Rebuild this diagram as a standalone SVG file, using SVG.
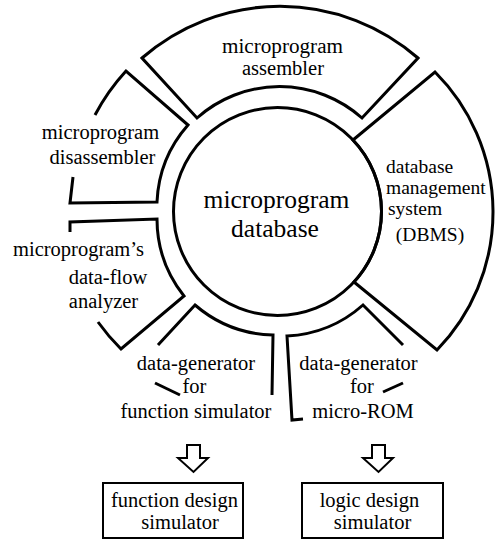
<svg xmlns="http://www.w3.org/2000/svg" width="495" height="539" viewBox="0 0 495 539">
<style>
.shape{fill:none;stroke:#000;stroke-width:3;stroke-linejoin:miter;stroke-linecap:butt}
.box{fill:#fff;stroke:#000;stroke-width:2}
.arrow{fill:#fff;stroke:#000;stroke-width:2;stroke-linejoin:miter}
text{font-family:"Liberation Serif","Times New Roman",serif;fill:#000;font-size:20.5px}
.m{text-anchor:middle}
.big{font-size:25.5px}
.s{font-size:19.5px}
</style>
<rect width="495" height="539" fill="#fff"/>
<g id="database">
<circle class="shape" cx="277.5" cy="211.5" r="104"/>
<text class="m big" x="276.5" y="208">microprogram</text>
<text class="m big" x="275" y="237">database</text>
</g>
<g id="assembler">
<path class="shape" d="M142,58 A210,210 0 0 1 418,58 L362,118 A124,124 0 0 0 197,118 Z"/>
<text class="m" x="282.5" y="53" textLength="121" lengthAdjust="spacingAndGlyphs" font-size="19.5">microprogram</text>
<text class="m" x="283" y="75" font-size="19.5">assembler</text>
</g>
<g id="dbms">
<path class="shape" d="M353,140 L435,72 A198,198 0 0 1 437,350 L354,282 A104,104 0 0 0 353,140 Z"/>
<text class="s" x="386" y="173">database</text>
<text class="s" x="386" y="194">management</text>
<text class="s" x="388" y="215">system</text>
<text class="m s" x="430" y="241">(DBMS)</text>
</g>
<g id="disassembler">
<path class="shape" d="M95,115 A208,208 0 0 1 126,71 L188,125 A124,124 0 0 0 157,202 L70,203 L73,177"/>
<text class="m" x="100.5" y="139">microprogram</text>
<text class="m" x="102.5" y="164">disassembler</text>
</g>
<g id="analyzer">
<path class="shape" d="M70,232 L70,222 L157,219 A124,124 0 0 0 184,296 L121,349 A208,208 0 0 1 98,322"/>
<text class="m" x="78.5" y="256">microprogram’s</text>
<text class="m" x="108" y="284">data-flow</text>
<text class="m" x="103.5" y="308">analyzer</text>
</g>
<g id="datagen-function">
<path class="shape" d="M158,345 L195,305 A124,124 0 0 0 273,335 L272,395"/>
<path class="shape" d="M155,383 L180,395"/>
<text class="m" x="196" y="370">data-generator</text>
<text class="m" x="194.5" y="393">for</text>
<text class="m" x="196" y="418">function simulator</text>
</g>
<g id="datagen-microrom">
<path class="shape" d="M403,345 L363,305 A124,124 0 0 1 287,336 L292,420 L303,419"/>
<path class="shape" d="M383,392 L403,383"/>
<text class="m" x="358.5" y="370">data-generator</text>
<text class="m" x="362" y="393">for</text>
<text class="m" x="363" y="418">micro-ROM</text>
</g>
<g id="function-design-simulator">
<rect class="box" x="103" y="483" width="140" height="55"/>
<text class="m" x="174.5" y="507">function design</text>
<text class="m" x="180" y="529">simulator</text>
</g>
<g id="logic-design-simulator">
<rect class="box" x="302" y="483" width="141" height="55"/>
<text class="m" x="369.5" y="507">logic design</text>
<text class="m" x="372.5" y="529">simulator</text>
</g>
<g id="connectors">
<path class="arrow" d="M187,445 L200,445 L200,458 L208,458 L193.5,472 L178,458 L187,458 Z"/>
<path class="arrow" d="M372,445 L385,445 L385,458 L393,458 L378.5,472 L363,458 L372,458 Z"/>
</g>
</svg>
